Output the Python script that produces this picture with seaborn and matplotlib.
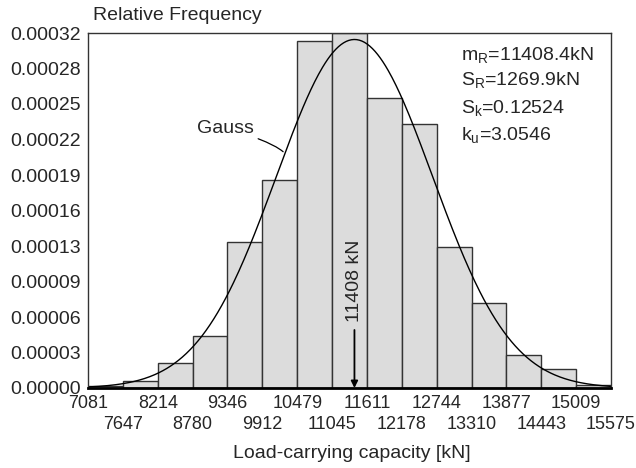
import numpy as np
import matplotlib
matplotlib.use('Agg')
import matplotlib.pyplot as plt
import seaborn as sns

# bin edges of the histogram [kN]
edges = [7081, 7647, 8214, 8780, 9346, 9912, 10479, 11045, 11611,
         12178, 12744, 13310, 13877, 14443, 15009, 15575]
# relative frequency per bin
freq = [0.0000020, 0.0000063, 0.0000223, 0.0000470, 0.0001313, 0.0001875,
        0.0003130, 0.0003200, 0.0002611, 0.0002380, 0.0001268, 0.0000763,
        0.0000295, 0.0000174, 0.0000027]
# y tick labels as printed
ytick_labels = ['0.00000', '0.00003', '0.00006', '0.00009', '0.00013', '0.00016',
                '0.00019', '0.00022', '0.00025', '0.00028', '0.00032']
# statistics of the sample
m_R = 11408.4
s_R = 1269.9
stats_lines = [r'm$_\mathrm{R}$=11408.4kN', r'S$_\mathrm{R}$=1269.9kN',
               r'S$_\mathrm{k}$=0.12524', r'k$_\mathrm{u}$=3.0546']

sns.set_style('white')
plt.rcParams['font.family'] = ['Liberation Sans', 'DejaVu Sans']
plt.rcParams['mathtext.fontset'] = 'custom'
plt.rcParams['mathtext.rm'] = 'Liberation Sans'
plt.rcParams['mathtext.it'] = 'Liberation Sans'
plt.rcParams['font.size'] = 14

fig = plt.figure(figsize=(6.36, 4.68), dpi=100)
ax = fig.add_axes([88 / 636, 1 - 388 / 468, 523 / 636, 355 / 468])

centers = [(a + b) / 2 for a, b in zip(edges[:-1], edges[1:])]
sns.histplot(x=centers, weights=freq, bins=edges, color='#dcdcdc',
             edgecolor='#333333', linewidth=1, alpha=1, ax=ax)

# Gauss curve from the stated mean and standard deviation
xs = np.linspace(edges[0], edges[-1], 400)
ys = np.exp(-0.5 * ((xs - m_R) / s_R) ** 2) / (s_R * np.sqrt(2 * np.pi))
sns.lineplot(x=xs, y=ys, color='black', linewidth=1, ax=ax)

ax.set_xlim(edges[0], edges[-1])
ax.set_ylim(0, 0.00032)
ax.set_yticks(np.linspace(0, 0.00032, len(ytick_labels)))
ax.set_yticklabels(ytick_labels)
ax.set_xticks(edges[::2])
ax.set_xticklabels([str(e) for e in edges[::2]])
ax.set_xticks(edges[1::2], minor=True)
ax.set_xticklabels([str(e) for e in edges[1::2]], minor=True)
ax.tick_params(axis='both', which='both', direction='out', length=3, width=1,
               color='#333333', labelsize=14, pad=2)
ax.tick_params(axis='x', which='both', labelsize=13)
ax.tick_params(axis='x', which='minor', pad=17)
ax.set_xlabel('')
ax.set_ylabel('')

for s in ax.spines.values():
    s.set_color('#333333')
    s.set_linewidth(1)
ax.spines['bottom'].set_color('black')
ax.spines['bottom'].set_linewidth(2)

# mean marker
ax.annotate('', xy=(m_R, 0), xytext=(m_R, 0.0000523),
            arrowprops=dict(arrowstyle='-|>', color='black', lw=1.3,
                            mutation_scale=10, shrinkA=0, shrinkB=0))
ax.text(m_R, 0.0000595, '11408 kN', rotation=90, ha='center', va='bottom',
        fontsize=14)

# Gauss label with leader
ax.annotate('Gauss', xy=(10250, 0.000213), xytext=(9770, 0.000234),
            ha='right', va='center', fontsize=14,
            arrowprops=dict(arrowstyle='-', color='black', lw=0.9,
                            shrinkA=1, shrinkB=0,
                            connectionstyle='angle3,angleA=-15,angleB=-40'))

ys_txt = [0.938, 0.868, 0.789, 0.713]
for line, yy in zip(stats_lines, ys_txt):
    ax.text(0.713, yy, line, transform=ax.transAxes, ha='left', va='center',
            fontsize=14)

fig.text(93 / 636, 1 - 16 / 468, 'Relative Frequency', ha='left', va='center',
         fontsize=14)
fig.text(352 / 636, 1 - 453 / 468, 'Load-carrying capacity [kN]', ha='center',
         va='center', fontsize=14)

plt.savefig('out.png', dpi=100)
